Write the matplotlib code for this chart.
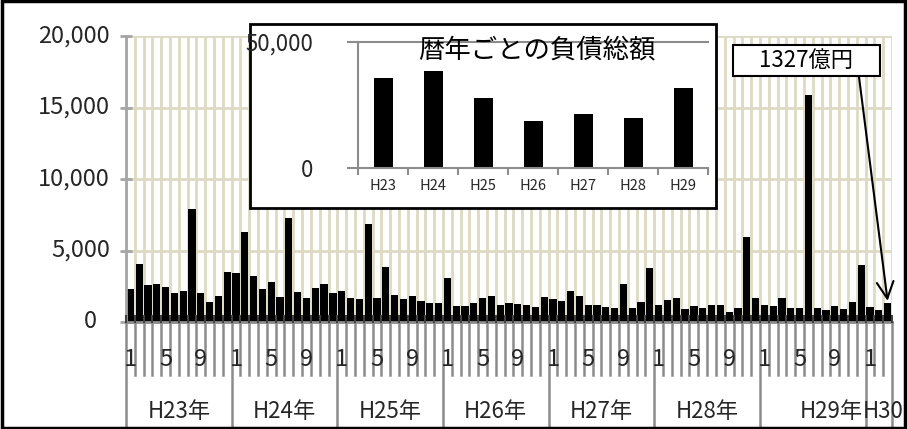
import matplotlib
matplotlib.use('Agg')
import matplotlib.pyplot as plt
from matplotlib.patches import Rectangle
from matplotlib.lines import Line2D
from matplotlib.transforms import blended_transform_factory
import numpy as np

plt.rcParams['font.family'] = ['Noto Sans CJK JP', 'DejaVu Sans']

# ---------------- data ----------------
year_labels = ['H23年', 'H24年', 'H25年', 'H26年', 'H27年', 'H28年', 'H29年', 'H30年']
months_in_year = [12, 12, 12, 12, 12, 12, 12, 3]
month_tick_labels = ['1', '5', '9']
monthly_debt = [
    2300, 4050, 2600, 2650, 2450, 2050, 2200, 7900, 2050, 1400, 1800, 3500,   # H23
    3400, 6300, 3200, 2300, 2800, 1750, 7300, 2100, 1650, 2350, 2650, 2000,   # H24
    2200, 1650, 1600, 6850, 1650, 3850, 1900, 1600, 1800, 1450, 1300, 1300,   # H25
    3100, 1100, 1100, 1350, 1650, 1800, 1200, 1300, 1250, 1200, 1050, 1750,   # H26
    1600, 1450, 2200, 1800, 1200, 1200, 1050, 950, 2650, 1000, 1400, 3800,    # H27
    1200, 1550, 1700, 900, 1100, 1000, 1200, 1200, 700, 1000, 5950, 1650,     # H28
    1200, 1100, 1650, 950, 1000, 15900, 1000, 850, 1100, 900, 1400, 4000,     # H29
    1050, 850, 1327,                                                          # H30
]
y_ticks = [0, 5000, 10000, 15000, 20000]

annual_labels = ['H23', 'H24', 'H25', 'H26', 'H27', 'H28', 'H29']
annual_totals = [35700, 38500, 27800, 18700, 21300, 19900, 31900]
annual_y_ticks = [0, 50000]
inset_title = '暦年ごとの負債総額'
callout_text = '1327億円'

# ---------------- layout helpers ----------------
W, H = 907, 429
fig = plt.figure(figsize=(W / 100, H / 100), dpi=100)


def fx(px):
    return px / W


def fy(py):
    return 1 - py / H


def rect(l, t, r, b):
    return [fx(l), fy(b), fx(r) - fx(l), fy(t) - fy(b)]


# ---------------- main axes ----------------
ax = fig.add_axes(rect(126, 36, 892, 322))
ax.set_zorder(0)
n = len(monthly_debt)
x = np.arange(n)
grid_c = '#DDD9C3'
axis_c = '#8C8C8C'
text_c = '#262626'

for b in np.arange(n + 1) - 0.5:
    ax.axvline(b, color=grid_c, lw=2, zorder=0)
for t in y_ticks[1:]:
    ax.axhline(t, color=grid_c, lw=2, zorder=0)

ax.bar(x, monthly_debt, width=0.82, color='black', zorder=2)
ax.set_xlim(-0.5, n - 0.5)
ax.set_ylim(y_ticks[0], y_ticks[-1])
for s in ['top', 'right']:
    ax.spines[s].set_visible(False)
ax.spines['left'].set_color('#A6A6A6')
ax.spines['left'].set_linewidth(2)
ax.spines['bottom'].set_color(axis_c)
ax.spines['bottom'].set_linewidth(2)
ax.spines['left'].set_zorder(3)
ax.spines['bottom'].set_zorder(3)
ax.set_xticks([])
ax.set_yticks(y_ticks)
ax.set_yticklabels([''] * len(y_ticks))
ax.tick_params(axis='y', direction='inout', length=8, width=2, color='#A6A6A6')

# y tick labels
ty = blended_transform_factory(fig.transFigure, ax.transData)
for t in y_ticks:
    lab = f'{t:,}'
    xr = fx(97) if t == 0 else fx(110)
    ax.text(xr, t, lab, transform=ty, ha='right', va='center', fontsize=17,
            color=text_c, clip_on=False)

# multi-level category axis
tx = blended_transform_factory(ax.transData, fig.transFigure)
starts = np.cumsum([0] + months_in_year[:-1])
year_bounds = set(list(starts) + [n])
for b in range(n + 1):
    bx = b - 0.5
    if b in year_bounds:
        y0, y1 = fy(322), fy(429)
    else:
        y0, y1 = fy(322), fy(375)
    ax.add_line(Line2D([bx, bx], [y0, y1], transform=tx, color=axis_c, lw=1.8,
                       clip_on=False))
    # small tick marks crossing the axis
    ax.add_line(Line2D([bx, bx], [fy(316), fy(322)], transform=tx, color='#404040',
                       lw=1.5, clip_on=False, zorder=4))

for s, m in zip(starts, months_in_year):
    for lab in month_tick_labels:
        k = int(lab) - 1
        if k < m:
            ax.text(s + k, fy(360), lab, transform=tx, ha='center', va='center',
                    fontsize=17, color=text_c, clip_on=False)

for i, (s, m, lab) in enumerate(zip(starts, months_in_year, year_labels)):
    if i == len(year_labels) - 2:
        ax.text(s + m - 0.5 - 3 / 8.8, fy(411), lab, transform=tx, ha='right',
                va='center', fontsize=16, color=text_c, clip_on=False)
    elif i == len(year_labels) - 1:
        ax.text(s - 0.5 - 3 / 8.8, fy(411), lab, transform=tx, ha='left',
                va='center', fontsize=16, color=text_c, clip_on=False)
    else:
        ax.text(s + m / 2 - 0.5, fy(411), lab, transform=tx, ha='center',
                va='center', fontsize=16, color=text_c, clip_on=False)

# ---------------- inset ----------------
box = Rectangle((fx(250), fy(208)), fx(716) - fx(250), fy(24) - fy(208),
                transform=fig.transFigure, facecolor='white', edgecolor='black',
                lw=2, zorder=2)
fig.patches.append(box)

iax = fig.add_axes(rect(358, 42, 708, 168))
iax.set_zorder(3)
iax.patch.set_visible(False)
xi = np.arange(len(annual_totals))
iax.bar(xi, annual_totals, width=0.38, color='black', zorder=2)
iax.set_xlim(-0.5, len(annual_totals) - 0.5)
iax.set_ylim(annual_y_ticks[0], annual_y_ticks[-1])
for s in ['top', 'right']:
    iax.spines[s].set_visible(False)
iax.spines['left'].set_color(axis_c)
iax.spines['bottom'].set_color(axis_c)
iax.spines['left'].set_linewidth(1.5)
iax.spines['bottom'].set_linewidth(1.5)
iax.axhline(annual_y_ticks[-1], color=axis_c, lw=1.5, clip_on=False, zorder=1)
iax.set_yticks(annual_y_ticks)
iax.set_yticklabels([f'{v:,}' for v in annual_y_ticks], fontsize=16, color=text_c)
iax.tick_params(axis='y', length=8, width=1.5, color=axis_c, pad=24)
iax.set_xticks(np.arange(len(annual_totals) + 1) - 0.5, minor=False)
iax.set_xticklabels([''] * (len(annual_totals) + 1))
iax.tick_params(axis='x', length=5, width=1.5, color=axis_c)
for i, lab in enumerate(annual_labels):
    iax.text(i, fy(186), lab, transform=blended_transform_factory(iax.transData, fig.transFigure),
             ha='center', va='center', fontsize=10.5, color=text_c)
fig.text(fx(537), fy(50), inset_title, ha='center', va='center', fontsize=19,
         color='black', zorder=5)

# ---------------- callout ----------------
cbox = Rectangle((fx(733), fy(76)), fx(880) - fx(733), fy(45) - fy(76),
                 transform=fig.transFigure, facecolor='white', edgecolor='black',
                 lw=1.5, zorder=2)
fig.patches.append(cbox)
fig.text(fx(806), fy(60.5), callout_text, ha='center', va='center', fontsize=16,
         color='black', zorder=5)
ax.annotate('', xy=(n - 1, monthly_debt[-1] + 150), xycoords='data',
            xytext=(fx(859), fy(77)), textcoords='figure fraction',
            arrowprops=dict(arrowstyle='->', lw=1.5, color='black',
                            mutation_scale=30, shrinkA=0, shrinkB=0),
            annotation_clip=False, zorder=6)

# outer frame
fig.patches.append(Rectangle((0.002, 0.003), 0.996, 0.994, transform=fig.transFigure,
                             fill=False, edgecolor='black', lw=2.5, zorder=10))

fig.savefig('out.png', dpi=100)
